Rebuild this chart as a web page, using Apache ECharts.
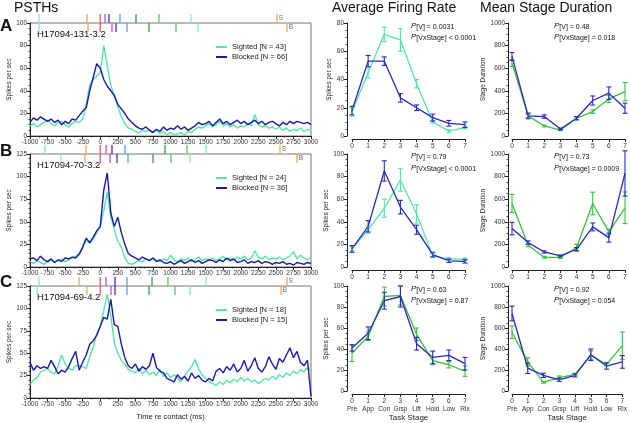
<!DOCTYPE html>
<html><head><meta charset="utf-8">
<script src="https://cdn.jsdelivr.net/npm/echarts@6/dist/echarts.min.js"></script>
<style>html,body{margin:0;padding:0;background:#fff}#c{width:630px;height:423px}</style>
</head><body><div id="c"></div>
<script>
const FONT = "'Liberation Sans', Arial, Helvetica, sans-serif";

// ---------- PSTH data (spikes/sec, 50 ms bins from -1000 to 3000 ms) ----------
const binTimes = Array.from({length: 81}, (_, i) => -1000 + 50 * i);

const psthA_sighted = [
  9,11,8,10,12,14,11,9,12,13,
  10,8,11,13,12,15,28,45,50,53,
  56,80,62,45,35,26,17,11,7,6,
  4,3,5,4,6,3,5,2,4,1,
  3,1,2,3,1,4,3,6,8,7,
  9,11,8,10,13,9,11,8,10,7,
  9,8,11,9,19,10,8,9,7,8,
  6,8,5,7,4,6,5,7,4,6,
  5];
const psthA_blocked = [
  12,16,14,17,15,13,15,12,14,10,
  13,11,15,14,18,22,25,40,52,64,
  60,50,44,40,36,28,24,20,15,12,
  9,7,6,8,5,3,6,4,8,5,
  7,6,9,6,8,5,7,9,12,10,
  11,13,9,12,15,11,13,10,12,14,
  11,13,10,12,14,11,13,10,12,13,
  11,9,12,10,13,11,13,12,11,12,
  10];
const psthB_sighted = [
  6,4,7,5,3,6,8,5,7,9,
  6,8,10,12,15,21,30,26,31,38,
  44,62,83,55,42,28,22,10,4,3,
  5,7,6,9,7,10,8,6,9,7,
  13,8,6,9,7,10,6,8,11,7,
  9,8,10,7,9,12,8,10,7,11,
  9,12,8,10,18,11,9,12,8,10,
  9,11,8,10,12,17,9,13,10,8,
  11];
const psthB_blocked = [
  9,10,7,12,8,6,9,5,8,6,
  10,9,11,10,14,22,32,27,33,40,
  45,85,104,60,45,55,38,25,15,12,
  10,8,11,9,7,10,6,8,5,4,
  6,3,5,7,4,6,8,5,7,4,
  6,8,7,5,8,6,10,7,9,5,
  6,8,4,6,5,7,4,6,5,3,
  5,4,6,3,4,2,5,4,3,5,
  4];
const psthC_sighted = [
  15,20,23,29,31,33,29,27,36,48,
  38,33,31,36,36,35,33,46,57,72,
  80,98,116,92,62,50,42,38,32,30,
  28,33,27,31,26,29,25,32,24,28,
  23,26,22,18,25,30,35,43,32,26,
  22,18,16,14,18,15,20,17,21,18,
  23,19,22,18,20,16,19,22,20,24,
  21,26,23,28,25,30,27,32,29,34,
  30];
const psthC_blocked = [
  40,31,36,33,35,33,42,35,27,31,
  29,35,44,52,31,40,48,60,64,70,
  80,90,88,110,82,80,60,45,36,33,
  38,30,35,32,36,50,34,30,28,22,
  20,18,26,21,24,19,28,22,25,20,
  18,22,19,30,33,28,35,31,38,29,
  33,42,30,36,45,33,29,35,46,38,
  32,44,40,48,56,45,52,40,36,42,
  2];

// ---------- Event times (ms) per trial condition ----------
const evA_S = [-872,-189,0,68,125,281,509,836,1292,2516];
const evA_B = [-872,-174,0,167,224,381,694,1078,1391,2658];
const evB_S = [-786,-203,0,82,167,352,922,1235,1505,2559];
const evB_B = [-559,-217,0,139,238,395,751,1007,1278,2801];
const evC_S = [-872,-302,0,82,210,381,737,964,1505,2658];
const evC_B = [-900,-189,0,153,210,381,694,1064,1278,2573];
const eventColors = ['#7fe2f0','#f0a84c','#e0506c','#c24ad0','#3a2fb4','#4aa6e6','#2f9a44','#50d050','#7fe2f0','#f0a84c'];

// ---------- Task stages ----------
const stageNums = [0,1,2,3,4,5,6,7];
const stageLabels = ['Pre','App','Con','Grsp','Lift','Hold','Low','Rlx'];

// ---------- Average firing rate (mean, sem) ----------
const frA_S = [17,45,72,68,37,10,3.5,6];   const frA_Se = [3,4,5,8,3,1,1,1];
const frA_B = [18,53,53,27,20,13,9,8];     const frA_Be = [3,4,3,3,2,2.5,2,2];
const frB_S = [16,33,52,77,47,10,7,7];     const frB_Se = [2,3,8,10,8,1.5,1.5,1];
const frB_B = [16,36,85,53,33,11,5.5,5];   const frB_Be = [3,5,9,6,4,2,1.5,1.5];
const frC_S = [36,52,90,91,54,29,25,19];   const frC_Se = [8,4,9,9,6,4,3,5];
const frC_B = [41,55,86,90,45,32,34,26];   const frC_Be = [3,6,8,10,6,6,5,6];

// ---------- Mean stage duration (mean, sem) ----------
const durA_S = [645,178,89,53,157,216,328,393];  const durA_Se = [30,15,8,5,10,15,30,80];
const durA_B = [704,178,172,62,157,314,379,246]; const durA_Be = [35,25,15,8,15,40,55,45];
const durB_S = [562,192,86,86,172,562,311,524];  const durB_Se = [80,12,8,10,30,100,25,140];
const durB_B = [340,216,133,98,157,355,260,828]; const durB_Be = [55,15,10,8,15,35,40,200];
const durC_S = [560,277,83,128,158,342,253,432]; const durC_Se = [60,40,8,15,10,40,15,130];
const durC_B = [738,217,149,107,149,345,238,277]; const durC_Be = [70,50,20,15,15,55,30,60];

const cellIds = ['H17094-131-3.2','H17094-70-3.2','H17094-69-4.2'];
const nSighted = [43,24,18];
const nBlocked = [66,36,15];
const pV = ['= 0.0031','= 0.79','= 0.63'];
const pVS = ['< 0.0001','< 0.0001','= 0.87'];
const dV = ['= 0.48','= 0.73','= 0.92'];
const dVS = ['= 0.018','= 0.0009','= 0.054'];

// ---------- styling ----------
const C_SIGHT_PSTH = '#55e6a8';
const C_BLOCK = '#1a1aa6';
const C_BLOCK2 = '#2a2ab8';
const C_GREEN = '#3cc040';
const AX = '#222';
const LBL = '#333';

const tops = [23,154,286];
const heights = [113,113,112];

const grids = [], xAxes = [], yAxes = [], series = [], legends = [], graphics = [];

function axisBase() {
  return {
    axisLine:{show:true, onZero:false, lineStyle:{color:AX, width:1}},
    axisTick:{show:true, length:3, lineStyle:{color:AX, width:1}},
    minorTick:{show:true, length:1.5, lineStyle:{color:AX, width:0.8}},
    splitLine:{show:false}, minorSplitLine:{show:false},
    axisLabel:{fontSize:6.5, color:LBL, fontFamily:FONT, margin:3, formatter: v => String(v)}
  };
}

// PSTH grids 0..2
const psthSets = [
  [psthA_sighted, psthA_blocked, 100, 20, 4],
  [psthB_sighted, psthB_blocked, 125, 25, 5],
  [psthC_sighted, psthC_blocked, 125, 25, 5]
];
psthSets.forEach((s, k) => {
  grids.push({left:30, top:tops[k], width:281, height:heights[k], show:true, borderColor:'#777', borderWidth:1, backgroundColor:'transparent'});
  const xa = Object.assign(axisBase(), {gridIndex:k, type:'value', min:-1000, max:3000, interval:250});
  xa.minorTick.splitNumber = 2;
  if (k === 2) { xa.name = 'Time re contact (ms)'; xa.nameLocation = 'middle'; xa.nameGap = 15; xa.nameTextStyle = {fontSize:7.5, color:'#222', fontFamily:FONT}; }
  xAxes.push(xa);
  const ya = Object.assign(axisBase(), {gridIndex:k, type:'value', min:0, max:s[2], interval:s[3],
    name:'Spikes per sec', nameLocation:'middle', nameGap:13, nameTextStyle:{fontSize:6.5, color:'#222', fontFamily:FONT}});
  ya.minorTick.splitNumber = s[4];
  yAxes.push(ya);
});
// Firing rate grids 3..5
const frMax = [80,100,100];
for (let k = 0; k < 3; k++) {
  grids.push({left:352, top:tops[k], width:113, height:heights[k]});
  const xa = Object.assign(axisBase(), {gridIndex:3+k, type:'value', min:0, max:7, interval:1, offset:3});
  xa.minorTick = {show:false};
  xa.axisLabel.formatter = k === 2 ? (v => v + '\n' + stageLabels[v]) : (v => String(v));
  xa.axisLabel.lineHeight = 8;
  if (k === 2) { xa.name = 'Task Stage'; xa.nameLocation = 'middle'; xa.nameGap = 20; xa.nameTextStyle = {fontSize:8, color:'#222', fontFamily:FONT}; }
  xAxes.push(xa);
  const ya = Object.assign(axisBase(), {gridIndex:3+k, type:'value', min:0, max:frMax[k], interval:20, offset:5,
    name:'Spikes per sec', nameLocation:'middle', nameGap:14, nameTextStyle:{fontSize:6.5, color:'#222', fontFamily:FONT}});
  ya.minorTick.splitNumber = 4;
  yAxes.push(ya);
}
// Duration grids 6..8
for (let k = 0; k < 3; k++) {
  grids.push({left:512, top:tops[k], width:113, height:heights[k]});
  const xa = Object.assign(axisBase(), {gridIndex:6+k, type:'value', min:0, max:7, interval:1, offset:3});
  xa.minorTick = {show:false};
  xa.axisLabel.formatter = k === 2 ? (v => v + '\n' + stageLabels[v]) : (v => String(v));
  xa.axisLabel.lineHeight = 8;
  if (k === 2) { xa.name = 'Task Stage'; xa.nameLocation = 'middle'; xa.nameGap = 20; xa.nameTextStyle = {fontSize:8, color:'#222', fontFamily:FONT}; }
  xAxes.push(xa);
  const ya = Object.assign(axisBase(), {gridIndex:6+k, type:'value', min:0, max:1000, interval:200, offset:4,
    name:'Stage Duration', nameLocation:'middle', nameGap:18, nameTextStyle:{fontSize:6.5, color:'#222', fontFamily:FONT}});
  ya.minorTick.splitNumber = 4;
  yAxes.push(ya);
}
// Event strips 9..11
for (let k = 0; k < 3; k++) {
  grids.push({left:30, top:tops[k]-9, width:281, height:18});
  xAxes.push({gridIndex:9+k, type:'value', min:-1000, max:3000, show:false});
  yAxes.push({gridIndex:9+k, type:'value', min:0, max:2, show:false});
}

// PSTH series
psthSets.forEach((s, k) => {
  const nmS = 'Sighted [N = ' + nSighted[k] + ']';
  const nmB = 'Blocked [N = ' + nBlocked[k] + ']';
  series.push({type:'line', name:nmS, xAxisIndex:k, yAxisIndex:k, showSymbol:false, symbol:'none',
    data: binTimes.map((t,i)=>[t, s[0][i]]), lineStyle:{color:C_SIGHT_PSTH, width:1.4}, itemStyle:{color:C_SIGHT_PSTH}, z:2, animation:false});
  series.push({type:'line', name:nmB, xAxisIndex:k, yAxisIndex:k, showSymbol:false, symbol:'none',
    data: binTimes.map((t,i)=>[t, s[1][i]]), lineStyle:{color:C_BLOCK, width:1.4}, itemStyle:{color:C_BLOCK}, z:3, animation:false});
  legends.push({data:[nmS, nmB], left:211, top:tops[k]+15, orient:'vertical', itemGap:2, itemWidth:11, itemHeight:2,
    icon:'rect', selectedMode:false, textStyle:{fontSize:7.5, color:'#222', fontFamily:FONT}});
});

// Event markers
const evSets = [[evA_S, evA_B],[evB_S, evB_B],[evC_S, evC_B]];
evSets.forEach((pair, k) => {
  [[pair[0], 1.5, 'S'], [pair[1], 0.5, 'B']].forEach(([ev, yy, tag]) => {
    series.push({type:'scatter', xAxisIndex:9+k, yAxisIndex:9+k, symbol:'rect', symbolSize:[1.6, 9], clip:false, animation:false, z:4,
      data: ev.map((t, i) => ({value:[t, yy], itemStyle:{color:eventColors[i]},
        label: i === ev.length - 1 ? {show:true, position:'right', distance:1, formatter:tag, fontSize:6.5, color:'#444', fontFamily:FONT} : {show:false}}))});
  });
});

function meanLine(xi, means, color) {
  return {type:'line', xAxisIndex:xi, yAxisIndex:xi, symbol:'none', showSymbol:false, animation:false, z:3,
    data: stageNums.map((s,i)=>[s, means[i]]), lineStyle:{color, width:1.3}, itemStyle:{color}};
}
function errBars(xi, means, errs, color) {
  return {type:'custom', xAxisIndex:xi, yAxisIndex:xi, clip:false, animation:false, z:4,
    data: stageNums.map((s,i)=>[s, means[i], errs[i]]),
    renderItem:(params, api) => {
      const x = api.value(0), m = api.value(1), e = api.value(2);
      const p1 = api.coord([x, m + e]), p2 = api.coord([x, m - e]);
      const w = 2.5, st = {stroke:color, lineWidth:1.1};
      return {type:'group', children:[
        {type:'line', shape:{x1:p1[0], y1:p1[1], x2:p2[0], y2:p2[1]}, style:st},
        {type:'line', shape:{x1:p1[0]-w, y1:p1[1], x2:p1[0]+w, y2:p1[1]}, style:st},
        {type:'line', shape:{x1:p2[0]-w, y1:p2[1], x2:p2[0]+w, y2:p2[1]}, style:st}]};
    }};
}
const frSets = [[frA_S,frA_Se,frA_B,frA_Be,C_SIGHT_PSTH],[frB_S,frB_Se,frB_B,frB_Be,C_SIGHT_PSTH],[frC_S,frC_Se,frC_B,frC_Be,C_GREEN]];
frSets.forEach((s,k) => {
  series.push(meanLine(3+k, s[0], s[4]), errBars(3+k, s[0], s[1], s[4]));
  series.push(meanLine(3+k, s[2], C_BLOCK2), errBars(3+k, s[2], s[3], C_BLOCK2));
});
const durSets = [[durA_S,durA_Se,durA_B,durA_Be],[durB_S,durB_Se,durB_B,durB_Be],[durC_S,durC_Se,durC_B,durC_Be]];
durSets.forEach((s,k) => {
  series.push(meanLine(6+k, s[0], C_GREEN), errBars(6+k, s[0], s[1], C_GREEN));
  series.push(meanLine(6+k, s[2], C_BLOCK2), errBars(6+k, s[2], s[3], C_BLOCK2));
});

// Texts
function txt(x, y, text, size, extra) {
  return Object.assign({type:'text', left:x, top:y, silent:true,
    style:Object.assign({text, fontSize:size, fontFamily:FONT, fill:'#111'}, extra || {})});
}
graphics.push(txt(14, 1, 'PSTHs', 14));
graphics.push(txt(332, 1, 'Average Firing Rate', 14));
graphics.push(txt(480, 1, 'Mean Stage Duration', 14));
['A','B','C'].forEach((L,k) => graphics.push(txt(0, [18,143,274][k], L, 17, {fontWeight:'bold'})));
cellIds.forEach((id,k) => graphics.push(txt(37, tops[k]+6, id, 9.5)));
function pTxt(x, y, sub, rest) {
  return {type:'text', left:x, top:y, silent:true, style:{
    text:'{p|P}{s|' + sub + ' ' + rest + '}', fontFamily:FONT,
    rich:{p:{fontSize:8, fontStyle:'italic', fontFamily:FONT, fill:'#111', lineHeight:9, verticalAlign:'top'},
          s:{fontSize:7, fontFamily:FONT, fill:'#111', lineHeight:8, verticalAlign:'bottom'}}}};
}
const pRows = [[22,33],[152,164],[285,296]];
for (let k = 0; k < 3; k++) {
  graphics.push(pTxt(411, pRows[k][0], '[V]', pV[k]));
  graphics.push(pTxt(411, pRows[k][1], '[VxStage]', pVS[k]));
  graphics.push(pTxt(554, pRows[k][0], '[V]', dV[k]));
  graphics.push(pTxt(554, pRows[k][1], '[VxStage]', dVS[k]));
}

const chart = echarts.init(document.getElementById('c'), null, {renderer:'canvas'});
chart.setOption({
  animation:false,
  backgroundColor:'#fff',
  textStyle:{fontFamily:FONT},
  grid:grids, xAxis:xAxes, yAxis:yAxes, series, legend:legends, graphic:graphics
});
</script>
</body></html>
